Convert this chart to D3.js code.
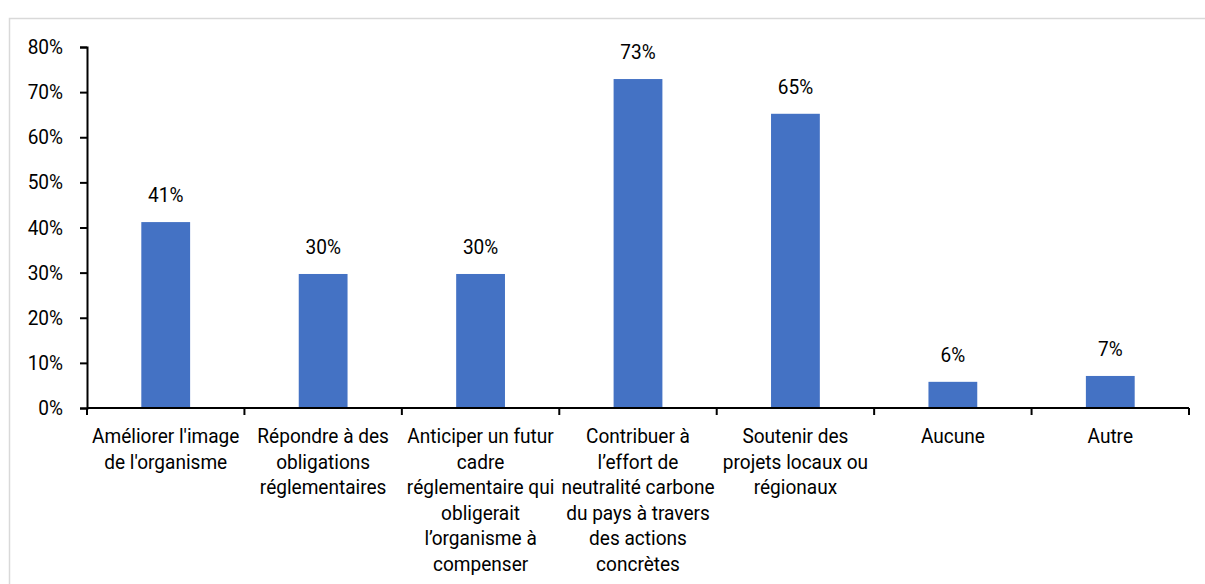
<!DOCTYPE html>
<html>
<head>
<meta charset="utf-8">
<script src="https://cdn.jsdelivr.net/npm/d3@7"></script>
<style>
  body { margin: 0; background: #fff; }
  svg { display: block; }
</style>
</head>
<body>
<div id="chart"></div>
<script>
// Category labels, pre-wrapped as in the source chart
const categories = [
  ["Améliorer l'image", "de l'organisme"],
  ["Répondre à des", "obligations", "réglementaires"],
  ["Anticiper un futur", "cadre", "réglementaire qui", "obligerait", "l’organisme à", "compenser"],
  ["Contribuer à", "l’effort de", "neutralité carbone", "du pays à travers", "des actions", "concrètes"],
  ["Soutenir des", "projets locaux ou", "régionaux"],
  ["Aucune"],
  ["Autre"]
];
const values = [0.412, 0.297, 0.297, 0.729, 0.652, 0.058, 0.071];
const yTicks = [0, 0.1, 0.2, 0.3, 0.4, 0.5, 0.6, 0.7, 0.8];

window.onload = function () {
  const width = 1205;
  const height = 584;
  const margin = { top: 47, right: 16, bottom: 176, left: 87 };
  const fontSize = "20.5px";
  const font = "Roboto, sans-serif";
  const squeeze = 0.93; // source font is a condensed face

  const svg = d3.select("#chart")
    .append("svg")
    .attr("width", width)
    .attr("height", height)
    .style("font-family", font);

  // outer frame
  svg.append("rect")
    .attr("x", 9.5).attr("y", 18.5)
    .attr("width", width).attr("height", height)
    .attr("fill", "none")
    .attr("stroke", "#d9d9d9")
    .attr("stroke-width", 1.5);

  const idx = d3.range(categories.length);
  const x = d3.scaleBand()
    .domain(idx)
    .range([margin.left, width - margin.right])
    .paddingInner(0).paddingOuter(0);

  const y = d3.scaleLinear()
    .domain([0, 0.8])
    .range([height - margin.bottom, margin.top]);

  const barW = x.bandwidth() * 0.31;
  const cx = i => x(i) + x.bandwidth() / 2;

  // bars
  svg.selectAll("rect.bar")
    .data(values)
    .join("rect")
    .attr("class", "bar")
    .attr("x", (d, i) => cx(i) - barW / 2)
    .attr("y", d => y(d))
    .attr("width", barW)
    .attr("height", d => y(0) - y(d))
    .attr("fill", "#4472c4");

  // value labels
  svg.selectAll("text.val")
    .data(values)
    .join("text")
    .attr("class", "val")
    .attr("transform", (d, i) => `translate(${cx(i)},${y(d) - 20}) scale(${squeeze},1)`)
    .attr("text-anchor", "middle")
    .style("font-size", fontSize)
    .style("fill", "#000")
    .text(d => Math.round(d * 100) + "%");

  // y axis
  const yAxis = d3.axisLeft(y)
    .tickValues(yTicks)
    .tickFormat(d => Math.round(d * 100) + "%")
    .tickSize(7)
    .tickPadding(17);
  const gy = svg.append("g")
    .attr("transform", `translate(${margin.left},0)`)
    .call(yAxis);
  gy.select(".domain").attr("stroke", "#000").attr("stroke-width", 2);
  gy.selectAll(".tick line").attr("stroke", "#000").attr("stroke-width", 2);
  gy.selectAll(".tick text")
    .attr("x", -24 / squeeze)
    .attr("transform", `scale(${squeeze},1)`)
    .style("font-size", fontSize)
    .style("font-family", font)
    .attr("fill", "#000");

  // x axis line with ticks at band edges
  const x0 = y(0);
  svg.append("line")
    .attr("x1", margin.left).attr("x2", width - margin.right)
    .attr("y1", x0).attr("y2", x0)
    .attr("stroke", "#000").attr("stroke-width", 2);
  const edges = idx.map(i => x(i)).concat([x(idx.length - 1) + x.bandwidth()]);
  svg.selectAll("line.xt")
    .data(edges)
    .join("line")
    .attr("class", "xt")
    .attr("x1", d => d).attr("x2", d => d)
    .attr("y1", x0).attr("y2", x0 + 7)
    .attr("stroke", "#000").attr("stroke-width", 2);

  // category labels
  const lab = svg.selectAll("text.cat")
    .data(categories)
    .join("text")
    .attr("class", "cat")
    .attr("transform", (d, i) => `translate(${cx(i)},${x0 + 35}) scale(${squeeze},1)`)
    .attr("text-anchor", "middle")
    .style("font-size", fontSize)
    .style("fill", "#000");
  lab.each(function (lines) {
    const t = d3.select(this);
    lines.forEach((ln, j) => {
      t.append("tspan")
        .attr("x", 0)
        .attr("dy", j === 0 ? 0 : 25.6)
        .text(ln);
    });
  });
};
</script>
</body>
</html>
